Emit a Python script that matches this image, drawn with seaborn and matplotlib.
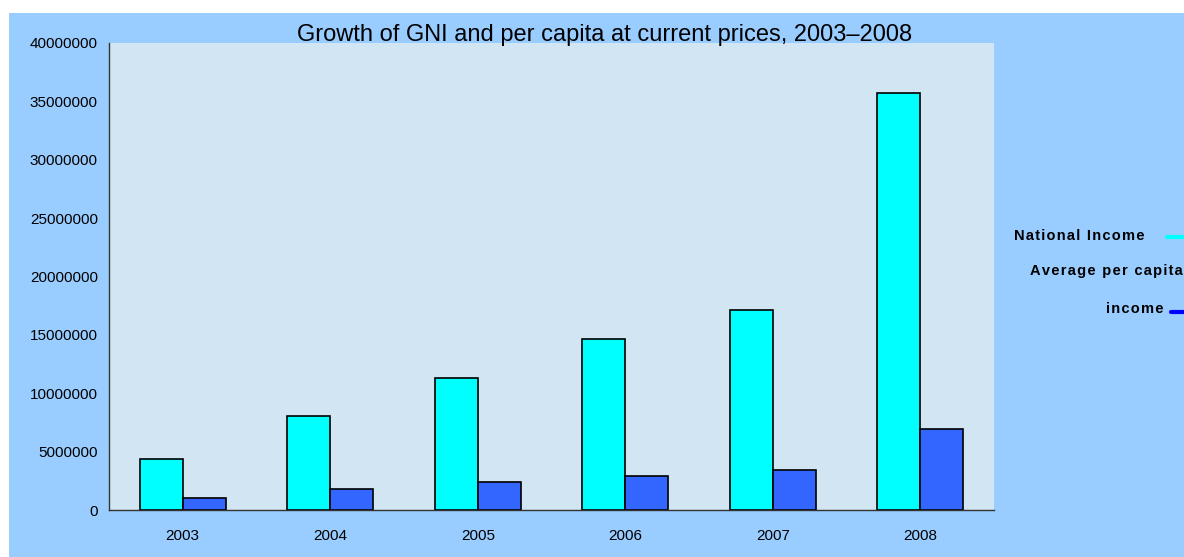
import pandas as pd
import seaborn as sns
import matplotlib.pyplot as plt
from matplotlib.patches import Rectangle
from matplotlib.lines import Line2D

years = ["2003", "2004", "2005", "2006", "2007", "2008"]
national_income = [4370000, 8050000, 11300000, 14650000, 17130000, 35700000]
per_capita_income = [1030000, 1800000, 2400000, 2900000, 3430000, 6940000]
series_names = ["National Income", "Average per capita income"]
y_ticks = [0, 5000000, 10000000, 15000000, 20000000, 25000000, 30000000, 35000000, 40000000]

df = pd.DataFrame({
    "year": years * 2,
    "value": national_income + per_capita_income,
    "series": [series_names[0]] * len(years) + [series_names[1]] * len(years),
})

sns.set_style("white")
plt.rcParams["font.family"] = ["Liberation Sans", "DejaVu Sans"]
plt.rcParams["text.color"] = "black"
plt.rcParams["xtick.color"] = "black"
plt.rcParams["ytick.color"] = "black"


def spaced(s):
    # wide letter spacing like the legend text in the original
    return "\u200a".join(s)


W, H = 1184, 557
fig = plt.figure(figsize=(W / 100, H / 100), dpi=100, facecolor="white")
fig.patches.append(Rectangle((9 / W, 0), 1, 1 - 13 / H, transform=fig.transFigure,
                             facecolor="#99CCFF", edgecolor="none", zorder=-10))

ax = fig.add_axes([109 / W, 47 / H, 885 / W, 467 / H])
ax.set_facecolor("#D2E5F3")

sns.barplot(data=df, x="year", y="value", hue="series",
            palette=["#00FFFF", "#3366FF"], width=0.58, dodge=True,
            edgecolor="black", linewidth=1.2, saturation=1, ax=ax, legend=False)

ax.set_xlim(-0.5, len(years) - 0.5)
ax.set_ylim(0, 40000000)
ax.set_yticks(y_ticks)
ax.set_yticklabels([str(v) for v in y_ticks], fontsize=11)
ax.set_xticks(range(len(years)))
ax.set_xticklabels(years, fontsize=11)
ax.set_xticks([i - 0.5 for i in range(len(years) + 1)], minor=True)
ax.tick_params(axis="x", which="major", length=0, pad=14)
ax.tick_params(axis="x", which="minor", length=5, width=1, color="#333333", direction="out")
ax.tick_params(axis="y", length=5, width=1, color="#333333", direction="out", pad=3)
ax.set_xlabel("")
ax.set_ylabel("")
for side in ["top", "right"]:
    ax.spines[side].set_visible(False)
for side in ["left", "bottom"]:
    ax.spines[side].set_color("#333333")
    ax.spines[side].set_linewidth(1)

fig.text(605 / W, 1 - 41 / H, "Growth of GNI and per capita at current prices, 2003\u20132008",
         ha="center", va="baseline", fontsize=17)

# legend on the right
fig.text(1145 / W, 1 - 240 / H, spaced("National Income"), ha="right", va="baseline",
         fontsize=10.5, fontweight="bold")
fig.text(1030 / W, 1 - 275 / H, spaced("Average per capita"), ha="left", va="baseline",
         fontsize=10.5, fontweight="bold")
fig.text(1164 / W, 1 - 313 / H, spaced("income"), ha="right", va="baseline",
         fontsize=10.5, fontweight="bold")
fig.lines.append(Line2D([1167 / W, 1.01], [1 - 237 / H] * 2, transform=fig.transFigure,
                        color="#00FFFF", lw=3))
fig.lines.append(Line2D([1171 / W, 1.01], [1 - 312 / H] * 2, transform=fig.transFigure,
                        color="#0000FF", lw=3))

fig.savefig("out.png", dpi=100, facecolor=fig.get_facecolor())
